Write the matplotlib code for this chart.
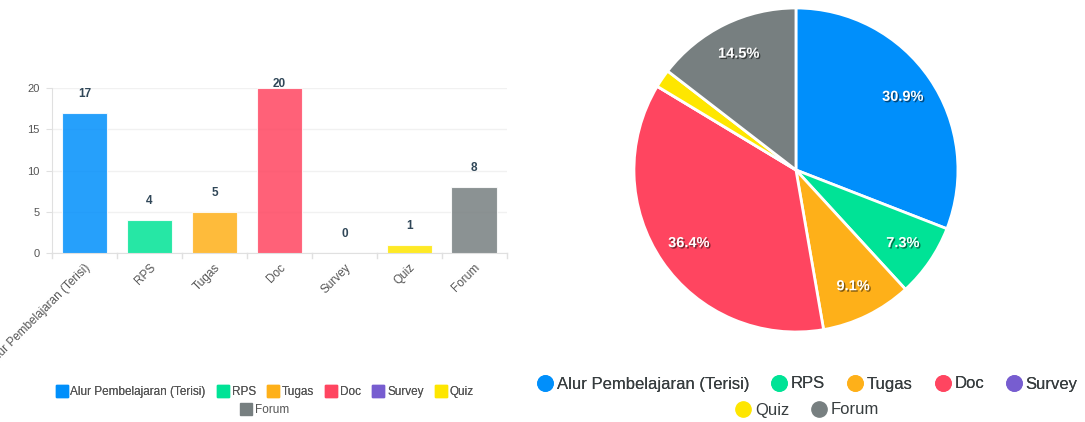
import matplotlib.pyplot as plt
import matplotlib.patheffects as pe
from matplotlib.lines import Line2D
import numpy as np

plt.rcParams['font.family'] = ['Liberation Sans', 'DejaVu Sans']

categories = ['Alur Pembelajaran (Terisi)', 'RPS', 'Tugas', 'Doc', 'Survey', 'Quiz', 'Forum']
values = [17, 4, 5, 20, 0, 1, 8]
colors = ['#008FFB', '#00E396', '#FEB019', '#FF4560', '#775DD0', '#FEE600', '#777F80']
yticks = [0, 5, 10, 15, 20]

text_color = '#373d3f'
label_color = '#304758'
gray = '#555555'

fig = plt.figure(figsize=(10.85, 4.22), dpi=100)

# bar chart
ax = fig.add_axes([0.048, 0.40, 0.419, 0.3915])
x = np.arange(len(categories))
ax.bar(x, values, width=0.7, color=colors, alpha=0.85, edgecolor='white', linewidth=0.8, zorder=3)
for xi, v in zip(x, values):
    ax.text(xi, min(v + 2.3, 20.5), str(v), ha='center', va='center',
            fontsize=8.5, fontweight='bold', color=label_color, zorder=4)
ax.set_xlim(-0.5, len(categories) - 0.5)
ax.set_ylim(0, 20)
ax.set_yticks(yticks)
ax.set_yticklabels([str(t) for t in yticks], fontsize=8, color=gray)
ax.set_xticks(x)
ax.set_xticklabels(categories, rotation=45, ha='right', rotation_mode='anchor',
                   fontsize=8.5, color=gray)
ax.tick_params(axis='x', length=0, pad=6)
ax.tick_params(axis='y', length=4, color='#e0e0e0', pad=5)
for b in np.arange(-0.5, len(categories), 1.0):
    ax.plot([b, b], [0, -0.6], color='#e0e0e0', lw=1, clip_on=False)
ax.grid(axis='y', color='#f1f1f1', lw=1, zorder=0)
for s in ['top', 'right']:
    ax.spines[s].set_visible(False)
ax.spines['left'].set_color('#e0e0e0')
ax.spines['bottom'].set_color('#e0e0e0')

def sq(c):
    return Line2D([], [], marker='s', ls='', markersize=8, markerfacecolor=c, markeredgecolor=c)

leg1 = fig.legend([sq(c) for c in colors[:6]], categories[:6], loc='center',
                  bbox_to_anchor=(265 / 1085, 1 - 392 / 422), ncol=6, frameon=False,
                  fontsize=8.5, handlelength=0.9, handletextpad=0.3, columnspacing=1.0,
                  labelcolor=gray)
leg2 = fig.legend([sq(colors[6])], categories[6:], loc='center',
                  bbox_to_anchor=(265 / 1085, 1 - 410 / 422), ncol=1, frameon=False,
                  fontsize=8.5, handlelength=0.9, handletextpad=0.3, labelcolor=gray)
fig.add_artist(leg1)

# pie chart
ax2 = fig.add_axes([0.5843, 0.2133, 0.2986, 0.7678])

def fmt(p):
    return f'{p:.1f}%' if p >= 3 else ''

wedges, texts, autotexts = ax2.pie(values, colors=colors, startangle=90, counterclock=False,
                                   autopct=fmt, pctdistance=0.8,
                                   wedgeprops=dict(edgecolor='white', linewidth=2))
for t in autotexts:
    t.set_color('white')
    t.set_fontsize(10.5)
    t.set_fontweight('bold')
    t.set_path_effects([pe.withSimplePatchShadow(offset=(1, -1), shadow_rgbFace='black', alpha=0.5)])
ax2.set_xlim(-1, 1)
ax2.set_ylim(-1, 1)
ax2.set_aspect('equal')

def dot(c):
    return Line2D([], [], marker='o', ls='', markersize=11, markerfacecolor=c, markeredgecolor=c)

leg3 = fig.legend([dot(c) for c in colors[:5]], categories[:5], loc='center',
                  bbox_to_anchor=(808 / 1085, 1 - 384 / 422), ncol=5, frameon=False,
                  fontsize=12, handlelength=0.8, handletextpad=0.3, columnspacing=1.4,
                  labelcolor=text_color)
leg4 = fig.legend([dot(c) for c in colors[5:]], categories[5:], loc='center',
                  bbox_to_anchor=(808 / 1085, 1 - 410 / 422), ncol=2, frameon=False,
                  fontsize=12, handlelength=0.8, handletextpad=0.3, columnspacing=1.4,
                  labelcolor=text_color)
fig.add_artist(leg3)

fig.savefig('out.png', dpi=100)
